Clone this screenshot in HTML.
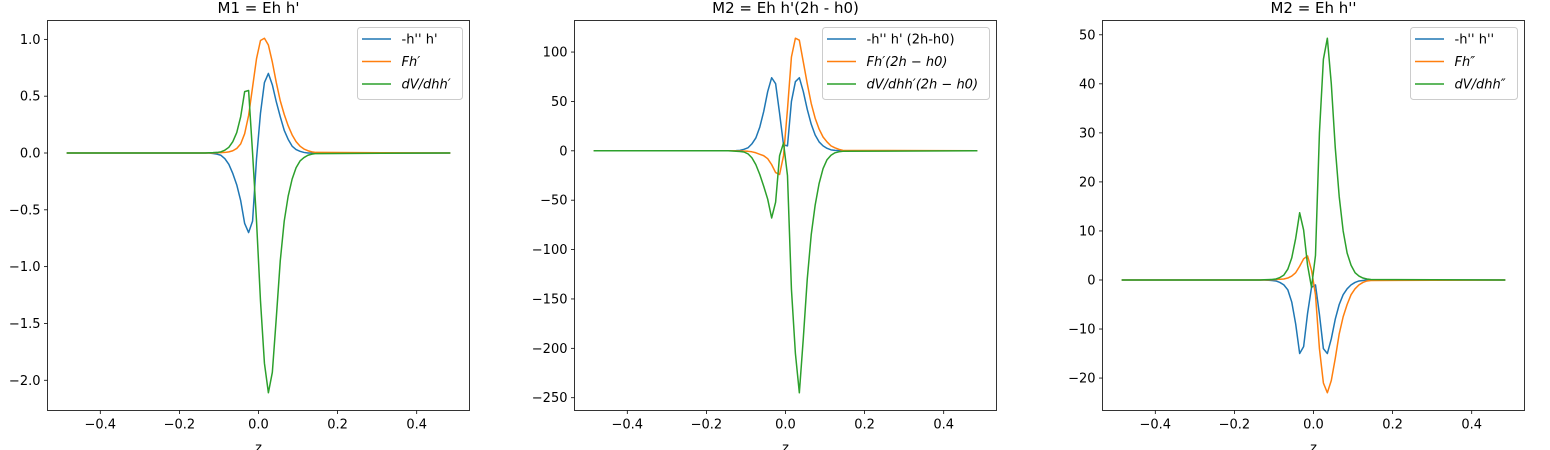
<!DOCTYPE html>
<html><head><meta charset="utf-8"><style>
html,body{margin:0;padding:0;background:#fff;}
svg{display:block;font-family:"DejaVu Sans","Liberation Sans",sans-serif;}
</style></head><body>
<svg id="fig" width="1550" height="450" viewBox="0 0 1550 450" xmlns="http://www.w3.org/2000/svg"></svg>
<script>
const zVals = [-0.485,-0.145,-0.135,-0.125,-0.115,-0.105,-0.095,-0.085,-0.075,-0.065,-0.055,-0.045,-0.035,-0.025,-0.015,-0.005,0.005,0.015,0.025,0.035,0.045,0.055,0.065,0.075,0.085,0.095,0.105,0.115,0.125,0.135,0.145,0.485];
const p1Blue = [0,0,0,0,-0.005,-0.01,-0.02,-0.05,-0.10,-0.18,-0.28,-0.42,-0.62,-0.70,-0.60,-0.05,0.35,0.62,0.70,0.60,0.45,0.32,0.20,0.12,0.06,0.03,0.015,0.005,0,0,0,0];
const p1Orange = [0,0,0,0,0,0.002,0.003,0.005,0.01,0.02,0.04,0.08,0.17,0.33,0.58,0.83,0.99,1.01,0.95,0.80,0.62,0.46,0.34,0.24,0.16,0.10,0.06,0.035,0.02,0.01,0.005,0];
const p1Green = [0,0,0,0.002,0.003,0.005,0.01,0.025,0.05,0.10,0.18,0.32,0.54,0.55,0.0,-0.6,-1.3,-1.85,-2.11,-1.93,-1.45,-0.95,-0.60,-0.38,-0.23,-0.13,-0.07,-0.04,-0.02,-0.01,-0.005,0];
const p2Blue = [0,0,0,0.2,0.5,1.5,3,7,13,24,40,60,74,68,38,6,5,50,70,74,60,42,27,16,9,5,2.5,1,0.5,0.2,0,0];
const p2Orange = [0,0,0,-0.1,-0.2,-0.3,-0.5,-1,-2,-3.5,-5,-8,-14,-22,-24,-5,42,95,114,112,90,68,48,33,22,14,9,5,3,1.5,0.5,0];
const p2Green = [0,0,-0.2,-0.4,-0.7,-1.2,-3,-7,-14,-24,-36,-49,-68,-52,-5,8,-25,-140,-205,-245,-190,-130,-85,-55,-33,-18,-9,-4.5,-2,-1,-0.5,0];
const p3Blue = [0,0,0,0,-0.05,-0.1,-0.2,-0.5,-1,-2,-4.5,-9,-15,-13.6,-6.8,-1.5,-1,-7,-14,-15,-12,-8,-5,-3,-1.8,-1,-0.5,-0.2,-0.1,0,0,0];
const p3Orange = [0,0,0,0,0,0.05,0.1,0.15,0.2,0.4,0.8,1.5,2.8,4.3,4.9,2,-3,-14,-21,-23,-20.5,-16,-11,-7.5,-5,-3,-1.8,-1,-0.5,-0.2,-0.1,0];
const p3Green = [0,0,0,0.05,0.08,0.1,0.2,0.5,1,2.2,4.5,8.5,13.7,10.2,3,-1.5,5,30,45,49.3,40,27,17,10,5.5,3,1.5,0.8,0.4,0.2,0.1,0];
const xTicks = [-0.4,-0.2,0.0,0.2,0.4];
const p1YTicks = [1.0,0.5,0.0,-0.5,-1.0,-1.5,-2.0];
const p2YTicks = [100,50,0,-50,-100,-150,-200,-250];
const p3YTicks = [50,40,30,20,10,0,-10,-20];
const titles = ["M1 = Eh h'","M2 = Eh h'(2h - h0)","M2 = Eh h''"];

(function(){
const NS="http://www.w3.org/2000/svg";
const svg=document.getElementById('fig');
const colors=["#1f77b4","#ff7f0e","#2ca02c"];
const FS=13;
function mk(tag,attrs,parent){const e=document.createElementNS(NS,tag);for(const k in attrs)e.setAttribute(k,attrs[k]);(parent||svg).appendChild(e);return e;}
function fmt(v,dec){let s=v.toFixed(dec);if(v<0)s="\u2212"+s.slice(1);return s;}

const panels=[
 {left:47.5,series:[p1Blue,p1Orange,p1Green],yTicks:p1YTicks,dec:1,
  legend:{x:357.5,w:105,labels:[["-h'' h'",false],["Fh\u2032",true],["dV/dhh\u2032",true]]}},
 {left:574.5,series:[p2Blue,p2Orange,p2Green],yTicks:p2YTicks,dec:0,
  legend:{x:822.5,w:167,labels:[["-h'' h' (2h-h0)",false],["Fh\u2032(2h \u2212 h0)",true],["dV/dhh\u2032(2h \u2212 h0)",true]]}},
 {left:1102.5,series:[p3Blue,p3Orange,p3Green],yTicks:p3YTicks,dec:0,
  legend:{x:1410.5,w:107,labels:[["-h'' h''",false],["Fh\u2033",true],["dV/dhh\u2033",true]]}}
];
const topY=20.5,H=390,W=422;

panels.forEach((p,pi)=>{
  const g=mk('g',{});
  
  
  const zmin=Math.min(...zVals),zmax=Math.max(...zVals),zm=(zmax-zmin)*0.05;
  const x0=zmin-zm,x1=zmax+zm;
  let all=[];p.series.forEach(s=>all=all.concat(s));
  const ymin=Math.min(...all),ymax=Math.max(...all),ym=(ymax-ymin)*0.05;
  const y0=ymin-ym,y1=ymax+ym;
  const X=z=>p.left+(z-x0)/(x1-x0)*W;
  const Y=v=>topY+(y1-v)/(y1-y0)*H;
  p.series.forEach((s,si)=>{
    const d=s.map((v,i)=>(i?'L':'M')+X(zVals[i]).toFixed(2)+' '+Y(v).toFixed(2)).join(' ');
    const path=mk('path',{d:d,fill:'none',stroke:colors[si],'stroke-width':1.5,'stroke-linejoin':'round'},g);
    
    
  });
  const fr=mk('rect',{x:p.left,y:topY,width:W,height:H,fill:'none',stroke:'#000','stroke-width':0.8},g);
  
  
  xTicks.forEach(t=>{
    const x=X(t);
    mk('line',{x1:x,x2:x,y1:topY+H,y2:topY+H+3.5,stroke:'#000','stroke-width':0.8},g);
    const tx=mk('text',{x:x,y:topY+H+18,'text-anchor':'middle','font-size':FS,fill:'#000'},g);
    tx.textContent=fmt(t,1);
    
    
  });
  p.yTicks.forEach(t=>{
    const y=Y(t);
    mk('line',{x1:p.left-3.5,x2:p.left,y1:y,y2:y,stroke:'#000','stroke-width':0.8},g);
    const tx=mk('text',{x:p.left-7,y:y+4.5,'text-anchor':'end','font-size':FS,fill:'#000'},g);
    tx.textContent=fmt(t,p.dec);
    
    
  });
  const xl=mk('text',{x:p.left+W/2,y:452,'text-anchor':'middle','font-size':FS,fill:'#000'},g);
  xl.textContent='z';
  
  
  const tt=mk('text',{x:p.left+W/2,y:13,'text-anchor':'middle','font-size':15,fill:'#000'},g);
  tt.textContent=titles[pi];
  
  
  const L=p.legend;
  const lg=mk('g',{},g);
  
  
  mk('rect',{x:L.x,y:27.5,width:L.w,height:72,rx:3,fill:'#fff','fill-opacity':0.8,stroke:'#ccc','stroke-width':1},lg);
  L.labels.forEach((lab,i)=>{
    const y=39+i*22.5;
    const e=mk('g',{},lg);
    
    
    mk('line',{x1:L.x+4.5,x2:L.x+33.5,y1:y,y2:y,stroke:colors[i],'stroke-width':1.5},e);
    const t=mk('text',{x:L.x+44,y:y+4.5,'font-size':FS,fill:'#000','font-style':lab[1]?'italic':'normal'},e);
    t.textContent=lab[0];
  });
});
})();
</script>
</body></html>
